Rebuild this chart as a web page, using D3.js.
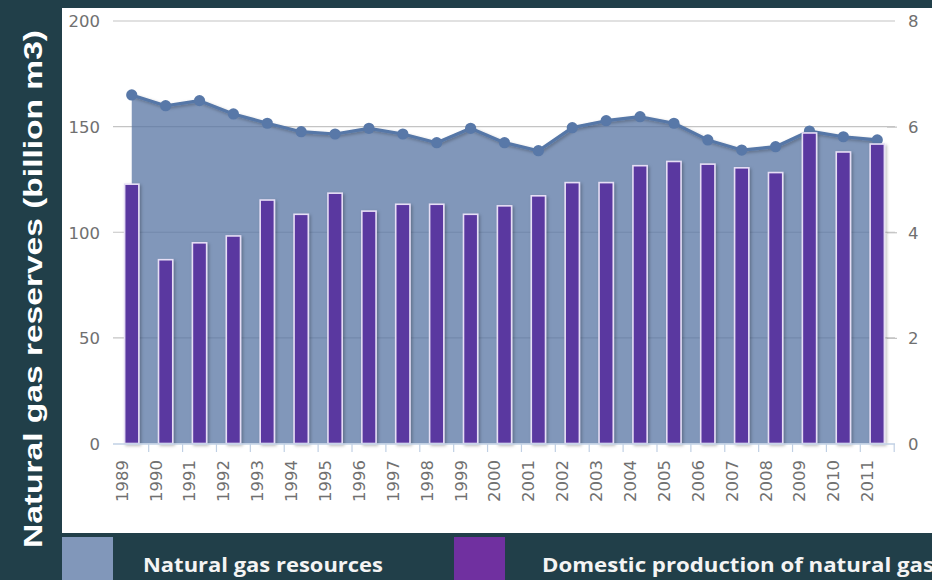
<!DOCTYPE html>
<html><head><meta charset="utf-8">
<script src="https://cdn.jsdelivr.net/npm/d3@7"></script>
<style>
html,body{margin:0;padding:0;background:#213f49;}
svg{display:block;}
</style></head>
<body>
<svg id="chart" width="932" height="580"></svg>
<script>
const years = ["1989","1990","1991","1992","1993","1994","1995","1996","1997","1998","1999","2000","2001","2002","2003","2004","2005","2006","2007","2008","2009","2010","2011"];
// Natural gas resources (left axis)
const resources = [165.0,159.9,162.3,156.0,151.6,147.6,146.5,149.2,146.5,142.4,149.2,142.4,138.6,149.5,152.8,154.7,151.6,143.7,138.9,140.5,147.9,145.2,143.7];
// Domestic production of natural gas (right axis)
const production = [4.91,3.48,3.80,3.93,4.61,4.34,4.74,4.40,4.53,4.53,4.34,4.50,4.69,4.94,4.94,5.26,5.34,5.29,5.22,5.13,5.88,5.52,5.67];
const leftTicks = [0,50,100,150,200];
const rightTicks = [0,2,4,6,8];
const yTitle = "Natural gas reserves (billion m3)";
const legendLabels = ["Natural gas resources","Domestic production of natural gas"];

const svg = d3.select("#chart");
const W = 932, H = 580;
svg.append("rect").attr("width",W).attr("height",H).attr("fill","#213f49");
svg.append("rect").attr("x",62).attr("y",8).attr("width",W-62).attr("height",525).attr("fill","#ffffff");

const defs = svg.append("defs");
const sh = defs.append("filter").attr("id","shadow").attr("x","-30%").attr("y","-10%").attr("width","170%").attr("height","130%");
sh.append("feDropShadow").attr("dx",1.5).attr("dy",1.5).attr("stdDeviation",1.5).attr("flood-color","#000").attr("flood-opacity",0.28);

const plotL = 114.8, plotR = 894.2, plotT = 21, plotB = 443.5;
const x = d3.scaleBand().domain(years).range([plotL, plotR]).padding(0);
const yL = d3.scaleLinear().domain([0,200]).range([plotB, plotT]);
const yR = d3.scaleLinear().domain([0,8]).range([plotB, plotT]);
const cx = d => x(d) + x.bandwidth()/2;

const labelFont = "'DejaVu Sans', sans-serif";
const labelColor = "#707070";

// gridlines
svg.append("g").selectAll("line").data(leftTicks.filter(t=>t>0)).join("line")
  .attr("x1",113).attr("x2",895).attr("y1",d=>yL(d)).attr("y2",d=>yL(d))
  .attr("stroke","#c4c4c4").attr("stroke-width",1.2);

// left axis labels
const gLeft = svg.append("g").attr("transform","translate(100,0)");
const leftAxis = d3.axisLeft(yL).tickValues(leftTicks).tickSize(0).tickPadding(0);
gLeft.call(leftAxis);
gLeft.select(".domain").remove();
gLeft.selectAll("text").attr("font-family",labelFont).attr("font-size",16.5).attr("fill",labelColor).attr("x",0).attr("dy","0.36em");

// right axis
const gRight = svg.append("g").attr("transform","translate(895,0)");
gRight.call(d3.axisRight(yR).tickValues(rightTicks).tickSize(0).tickPadding(13));
gRight.select(".domain").remove();
gRight.selectAll("text").attr("font-family",labelFont).attr("font-size",16.5).attr("fill",labelColor).attr("dy","0.36em");
gRight.selectAll(".tick").filter(d=>d>0 && d<8).append("line").attr("x1",-8).attr("x2",2).attr("stroke","#c4c4c4").attr("stroke-width",1.2);

// area + line
const area = d3.area().x(d=>cx(d.year)).y0(yL(0)).y1(d=>yL(d.v));
const line = d3.line().x(d=>cx(d.year)).y(d=>yL(d.v));
const resData = years.map((y,i)=>({year:y, v:resources[i]}));
svg.append("path").datum(resData).attr("d",area).attr("fill","#5774a3").attr("fill-opacity",0.75);
svg.append("path").datum(resData).attr("d",line).attr("fill","none").attr("stroke","#5677a7").attr("stroke-width",3.2).attr("stroke-linejoin","round").attr("filter","url(#shadow)");
svg.append("g").selectAll("circle").data(resData).join("circle")
  .attr("cx",d=>cx(d.year)).attr("cy",d=>yL(d.v)).attr("r",5.6).attr("fill","#5878a8");

// bars
const bw = x.bandwidth()*0.42;
const prodData = years.map((y,i)=>({year:y, v:production[i]}));
svg.append("g").selectAll("rect").data(prodData).join("rect")
  .attr("x",d=>cx(d.year)-bw/2).attr("y",d=>yR(d.v)).attr("width",bw).attr("height",d=>yR(0)-yR(d.v))
  .attr("fill","#5a38a0").attr("stroke","#e6def5").attr("stroke-width",1.6).attr("filter","url(#shadow)");

// x axis
const gx = svg.append("g").attr("transform",`translate(0,${plotB+0.5})`);
gx.append("line").attr("x1",113).attr("x2",895).attr("stroke","#c0d0e4").attr("stroke-width",1.5);
gx.selectAll("line.tk").data(years.slice(1).concat(["end"])).join("line").attr("class","tk")
  .attr("x1",(d,i)=> i<years.length-1 ? x(d) : plotR).attr("x2",(d,i)=> i<years.length-1 ? x(d) : plotR)
  .attr("y1",0).attr("y2",8).attr("stroke","#c0d0e4").attr("stroke-width",1.2);
gx.selectAll("text").data(years).join("text")
  .attr("transform",d=>`translate(${cx(d)-10},${16}) rotate(-90)`)
  .attr("text-anchor","end").attr("dy","0.36em")
  .attr("font-family",labelFont).attr("font-size",16.5).attr("fill",labelColor)
  .text(d=>d);

// y title
svg.append("text").attr("transform","translate(42,289) rotate(-90)")
  .attr("text-anchor","middle").attr("font-family","'Liberation Sans', Arial, sans-serif")
  .attr("font-weight","bold").attr("font-size",25).attr("fill","#ffffff")
  .attr("textLength",518).attr("lengthAdjust","spacingAndGlyphs").text(yTitle);

// legend
const legColors = ["#8197ba","#7030a0"];
const legBoxX = [62,454];
const legTextX = [143,542];
const legTextW = [240,392];
legendLabels.forEach((t,i)=>{
  svg.append("rect").attr("x",legBoxX[i]).attr("y",537).attr("width",51).attr("height",43).attr("fill",legColors[i]);
  svg.append("text").attr("x",legTextX[i]).attr("y",572).attr("font-family","'Open Sans', sans-serif")
    .attr("font-weight",700).attr("font-size",19).attr("fill","#f4f4f4")
    .attr("textLength",legTextW[i]).attr("lengthAdjust","spacingAndGlyphs").text(t);
});
</script>
</body></html>
